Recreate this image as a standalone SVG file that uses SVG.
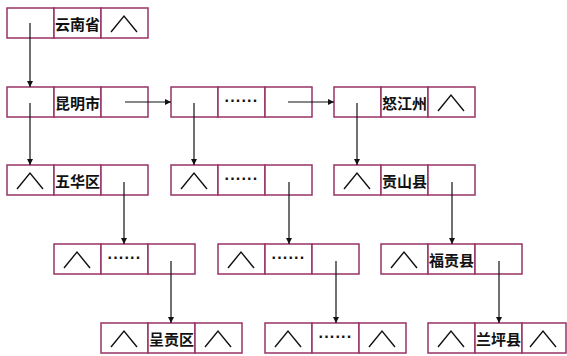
<svg xmlns="http://www.w3.org/2000/svg" width="567" height="356" viewBox="0 0 567 356">
<defs>
<style>
.c{fill:#fff;stroke:#993366;stroke-width:1.5}
.t{font-family:"Noto Sans CJK SC","Liberation Sans",sans-serif;font-size:15px;font-weight:bold;fill:#111;text-anchor:middle;dominant-baseline:central}
.d{font-family:"Liberation Sans",sans-serif;font-size:16px;font-weight:bold;fill:#111;text-anchor:middle;letter-spacing:0.3px}
.n{fill:none;stroke:#111;stroke-width:1.4}
.a{fill:none;stroke:#111;stroke-width:1.2;marker-end:url(#ah)}
</style>
<marker id="ah" viewBox="0 0 10 10" refX="10" refY="5" markerWidth="6" markerHeight="6" markerUnits="userSpaceOnUse" orient="auto">
<path d="M0,0 L10,5 L0,10 z" fill="#111"/>
</marker>
<g id="cell3">
<rect class="c" x="0" y="0" width="47" height="30"/>
<rect class="c" x="47" y="0" width="47" height="30"/>
<rect class="c" x="94" y="0" width="47" height="30"/>
</g>
<polyline id="nil" class="n" points="10,24 23,8 36,24"/>
</defs>
<rect width="567" height="356" fill="#fff"/>

<g id="n1" transform="translate(7,8)">
<use href="#cell3"/><text class="t" x="70.5" y="15">云南省</text><use href="#nil" x="94"/>
</g>
<g id="n2" transform="translate(7,87)">
<use href="#cell3"/><text class="t" x="70.5" y="15">昆明市</text>
</g>
<g id="n3" transform="translate(171,87)">
<use href="#cell3"/><text class="d" x="70.5" y="19">······</text>
</g>
<g id="n4" transform="translate(334,87)">
<use href="#cell3"/><text class="t" x="70.5" y="15">怒江州</text><use href="#nil" x="94"/>
</g>
<g id="n5" transform="translate(7,165)">
<use href="#cell3"/><use href="#nil"/><text class="t" x="70.5" y="15">五华区</text>
</g>
<g id="n6" transform="translate(171,165)">
<use href="#cell3"/><use href="#nil"/><text class="d" x="70.5" y="19">······</text>
</g>
<g id="n7" transform="translate(334,165)">
<use href="#cell3"/><use href="#nil"/><text class="t" x="70.5" y="15">贡山县</text>
</g>
<g id="n8" transform="translate(54,244)">
<use href="#cell3"/><use href="#nil"/><text class="d" x="70.5" y="19">······</text>
</g>
<g id="n9" transform="translate(218,244)">
<use href="#cell3"/><use href="#nil"/><text class="d" x="70.5" y="19">······</text>
</g>
<g id="n10" transform="translate(381,244)">
<use href="#cell3"/><use href="#nil"/><text class="t" x="70.5" y="15">福贡县</text>
</g>
<g id="n11" transform="translate(101,323)">
<use href="#cell3"/><use href="#nil"/><text class="t" x="70.5" y="15">呈贡区</text><use href="#nil" x="94"/>
</g>
<g id="n12" transform="translate(265,323)">
<use href="#cell3"/><use href="#nil"/><text class="d" x="70.5" y="19">······</text><use href="#nil" x="94"/>
</g>
<g id="n13" transform="translate(428,323)">
<rect class="c" x="0" y="0" width="47" height="30"/>
<rect class="c" x="47" y="0" width="47" height="30"/>
<rect class="c" x="94" y="0" width="44" height="30"/>
<use href="#nil"/><text class="t" x="70.5" y="15">兰坪县</text><use href="#nil" x="92"/>
</g>

<g id="connectors">
<line class="a" x1="30" y1="23" x2="30" y2="87"/>
<line class="a" x1="30" y1="103" x2="30" y2="165"/>
<line class="a" x1="125" y1="102" x2="171" y2="102"/>
<line class="a" x1="288" y1="102" x2="334" y2="102"/>
<line class="a" x1="194" y1="103" x2="194" y2="165"/>
<line class="a" x1="357" y1="103" x2="357" y2="165"/>
<line class="a" x1="124" y1="182" x2="124" y2="244"/>
<line class="a" x1="289" y1="182" x2="289" y2="244"/>
<line class="a" x1="452" y1="182" x2="452" y2="244"/>
<line class="a" x1="171" y1="261" x2="171" y2="323"/>
<line class="a" x1="336" y1="261" x2="336" y2="323"/>
<line class="a" x1="499" y1="261" x2="499" y2="323"/>
</g>
</svg>
